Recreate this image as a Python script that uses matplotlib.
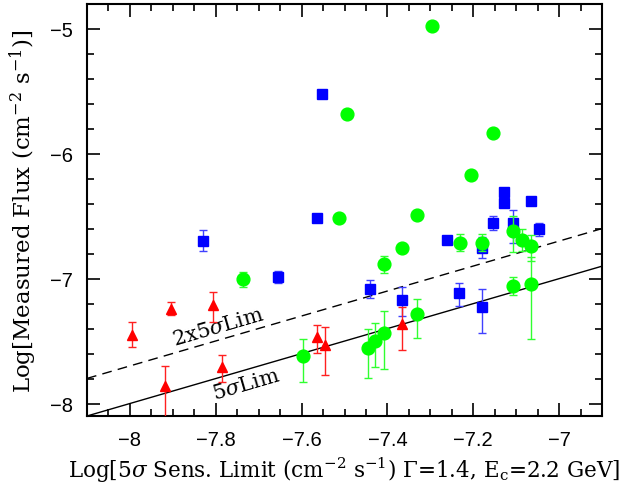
import numpy as np
import matplotlib
matplotlib.use("Agg")
import matplotlib.pyplot as plt
from matplotlib.ticker import MultipleLocator

# --- red triangles ---
red_x = [-7.995, -7.904, -7.806, -7.919, -7.785, -7.563, -7.546, -7.366]
red_y = [-7.45, -7.24, -7.21, -7.86, -7.71, -7.47, -7.53, -7.36]
red_lo = [0.10, 0.055, 0.135, 0.50, 0.12, 0.125, 0.24, 0.21]
red_hi = [0.10, 0.055, 0.105, 0.16, 0.10, 0.10, 0.14, 0.13]

# --- blue squares ---
blue_x = [-7.830, -7.654, -7.552, -7.565, -7.441, -7.366, -7.262, -7.234,
          -7.179, -7.179, -7.154, -7.129, -7.129, -7.108, -7.066, -7.047]
blue_y = [-6.696, -6.987, -5.52, -6.517, -7.084, -7.173, -6.691, -7.112,
          -6.752, -7.227, -6.557, -6.307, -6.397, -6.557, -6.379, -6.605]
blue_lo = [0.083, 0.05, 0.0, 0.0, 0.073, 0.125, 0.03, 0.107,
           0.085, 0.205, 0.057, 0.0, 0.02, 0.155, 0.03, 0.05]
blue_hi = [0.083, 0.05, 0.0, 0.0, 0.073, 0.11, 0.03, 0.08,
           0.085, 0.147, 0.057, 0.0, 0.02, 0.11, 0.03, 0.05]

# --- green circles ---
green_x = [-7.295, -7.494, -7.154, -7.205, -7.512, -7.330, -7.367, -7.409,
           -7.737, -7.232, -7.179, -7.108, -7.087, -7.066, -7.108, -7.066,
           -7.330, -7.597, -7.445, -7.430, -7.409]
green_y = [-4.979, -5.685, -5.832, -6.173, -6.517, -6.491, -6.757, -6.885,
           -7.005, -6.712, -6.712, -6.619, -6.691, -6.739, -7.059, -7.04,
           -7.285, -7.619, -7.552, -7.499, -7.432]
green_lo = [0.0, 0.0, 0.0, 0.0, 0.0, 0.0, 0.03, 0.07,
            0.06, 0.07, 0.07, 0.17, 0.09, 0.12, 0.07, 0.445,
            0.19, 0.205, 0.245, 0.21, 0.29]
green_hi = [0.0, 0.0, 0.0, 0.0, 0.0, 0.0, 0.03, 0.07,
            0.06, 0.07, 0.07, 0.12, 0.09, 0.09, 0.07, 0.21,
            0.125, 0.135, 0.147, 0.14, 0.17]

x_lim = (-8.1, -6.9)
y_lim = (-8.1, -4.8)
x_ticks = [-8, -7.8, -7.6, -7.4, -7.2, -7]
x_ticklabels = ["\u22128", "\u22127.8", "\u22127.6", "\u22127.4", "\u22127.2", "\u22127"]
y_ticks = [-8, -7, -6, -5]
y_ticklabels = ["\u22128", "\u22127", "\u22126", "\u22125"]

plt.rcParams["mathtext.fontset"] = "dejavuserif"

fig = plt.figure(figsize=(6.27, 4.85), dpi=100)
ax = fig.add_axes([87 / 627, 1 - 417 / 485, (602 - 87) / 627, (417 - 5) / 485])
ax.set_xlim(*x_lim)
ax.set_ylim(*y_lim)

# sensitivity lines: flux = limit and flux = 2 x limit
lx = np.array(x_lim)
ax.plot(lx, lx, color="black", lw=1.0, zorder=2)
ax.plot(lx, lx + np.log10(2), color="black", lw=1.0, ls=(0, (7, 4.5)), zorder=2)

ebkw = dict(capsize=3, elinewidth=1.0, capthick=1.0, linestyle="none")
ax.errorbar(blue_x, blue_y, yerr=[blue_lo, blue_hi], fmt="s", ms=6.7,
            color="#0000ff", ecolor="#4040ff", zorder=3, **ebkw)
ax.errorbar(red_x, red_y, yerr=[red_lo, red_hi], fmt="^", ms=7.4,
            color="#ff0000", ecolor="#ff2020", zorder=4, **ebkw)
ax.errorbar(green_x, green_y, yerr=[green_lo, green_hi], fmt="o", ms=9.2,
            color="#00ff00", ecolor="#30ff30", zorder=5, **ebkw)

ax.set_xlim(*x_lim)
ax.set_ylim(*y_lim)

# line labels, rotated along the lines
p0 = ax.transData.transform((x_lim[0], x_lim[0]))
p1 = ax.transData.transform((x_lim[1], x_lim[1]))
ang = np.degrees(np.arctan2(p1[1] - p0[1], p1[0] - p0[0]))
ax.text(-7.795, -7.386, r"2x5$\sigma$Lim", rotation=ang, rotation_mode="anchor",
        ha="center", va="center", fontsize=15, family="DejaVu Serif")
ax.text(-7.728, -7.843, r"5$\sigma$Lim", rotation=ang, rotation_mode="anchor",
        ha="center", va="center", fontsize=15, family="DejaVu Serif")

ax.set_xticks(x_ticks)
ax.set_xticklabels(x_ticklabels)
ax.set_yticks(y_ticks)
ax.set_yticklabels(y_ticklabels)
ax.xaxis.set_minor_locator(MultipleLocator(0.05))
ax.yaxis.set_minor_locator(MultipleLocator(0.2))
ax.tick_params(which="both", direction="in", top=True, right=True, width=1.2)
ax.tick_params(which="major", length=9.5, pad=10, labelsize=14.5)
ax.tick_params(which="minor", length=5)
for lab in ax.get_xticklabels() + ax.get_yticklabels():
    lab.set_family("Liberation Sans")
for s in ax.spines.values():
    s.set_linewidth(1.5)

ax.set_xlabel(r"Log[5$\sigma$ Sens. Limit (cm$^{-2}$ s$^{-1}$) $\Gamma$=1.4, E$_{\rm c}$=2.2 GeV]",
              fontsize=15.5, family="DejaVu Serif", labelpad=4)
ax.set_ylabel(r"Log[Measured Flux (cm$^{-2}$ s$^{-1}$)]",
              fontsize=16.5, family="DejaVu Serif", labelpad=8)

fig.savefig("out.png", dpi=100)
